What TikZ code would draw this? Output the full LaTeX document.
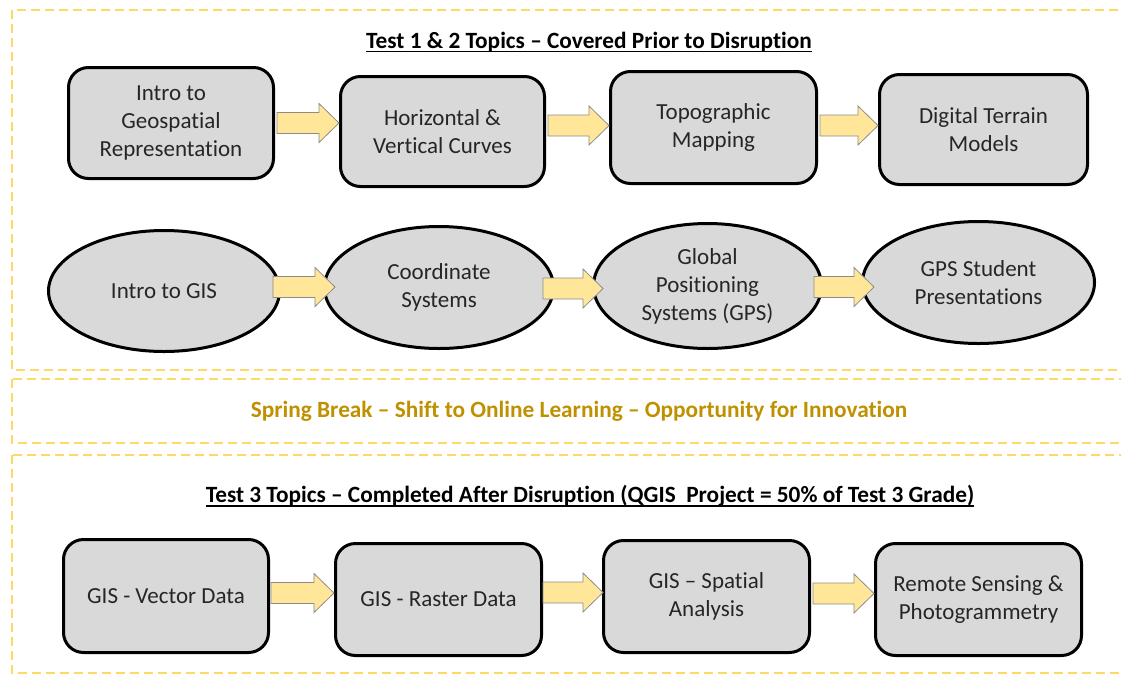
\documentclass[tikz,border=0pt]{standalone}
\usepackage{fontspec}
\setmainfont{Carlito}[Ligatures={TeX,CommonOff}]
\usetikzlibrary{calc,shapes.geometric}

\definecolor{nodegray}{HTML}{D9D9D9}
\definecolor{arrowfill}{HTML}{FFE699}
\definecolor{arrowline}{HTML}{8C8C8C}
\definecolor{dashyellow}{HTML}{FFD966}
\definecolor{breakgold}{HTML}{BF9000}
\definecolor{inktext}{HTML}{262626}

% heading text with a firm underline
\newsavebox\headbox
\newcommand\headline[1]{\sbox\headbox{#1}\rlap{\usebox\headbox}\rule[-4pt]{\wd\headbox}{1.5pt}}

\tikzset{
  topicbox/.style={draw=black, line width=3pt, fill=nodegray, rounded corners=20pt,
    align=center, inner sep=0pt, text=inktext, font=\fontsize{23}{28}\selectfont},
  topicoval/.style={ellipse, draw=black, line width=3pt, fill=nodegray,
    align=center, inner sep=0pt, text=inktext, font=\fontsize{23}{28}\selectfont},
  sectionframe/.style={draw=dashyellow, line width=2pt, dash pattern=on 9pt off 5pt},
  heading/.style={font=\fontsize{23.3}{28}\selectfont\bfseries, text=black},
  flowarrow/.style={fill=arrowfill, draw=arrowline, line width=0.8pt, line join=miter},
}

% block arrow from a start point to the x position of a tip, at the start's height
\newcommand\blockarrow[2]{%
  \path[flowarrow] let \p1=#1, \p2=#2 in
    (\x1,\y1+10.5pt) -- (\x2-20pt,\y1+10.5pt) -- (\x2-20pt,\y1+19.5pt) -- (\x2,\y1)
    -- (\x2-20pt,\y1-19.5pt) -- (\x2-20pt,\y1-10.5pt) -- (\x1,\y1-10.5pt) -- cycle;}

\begin{document}
\begin{tikzpicture}[x=1pt,y=-1pt]
\useasboundingbox (0,0) rectangle (1121,675);

% dashed section frames
\draw[sectionframe] (12,10) rectangle (1150,370);
\draw[sectionframe] (12,379) rectangle (1150,443);
\draw[sectionframe] (12,455) rectangle (1150,673);

% headings
\node[heading] (h1) at (589,42) {\headline{Test 1 \& 2 Topics -- Covered Prior to Disruption}};
\node[heading, text=breakgold] (h2) at (579,411) {Spring Break -- Shift to Online Learning -- Opportunity for Innovation};
\node[heading] (h3) at (590,496) {\headline{Test 3 Topics -- Completed After Disruption (QGIS\ \ Project = 50\% of Test 3 Grade)}};

% first row: rounded boxes
\node[topicbox, minimum width=205pt, minimum height=111pt] (a1) at (171,123) {Intro to\\Geospatial\\Representation};
\node[topicbox, minimum width=204pt, minimum height=110pt] (a2) at (442.5,131.5) {Horizontal \&\\Vertical Curves};
\node[topicbox, minimum width=206pt, minimum height=112pt] (a3) at (713.5,127.5) {Topographic\\Mapping};
\node[topicbox, minimum width=208pt, minimum height=110pt] (a4) at (983.5,129.5) {Digital Terrain\\Models};

% second row: ovals
\node[topicoval, minimum width=231pt, minimum height=121pt] (b1) at (164,291) {Intro to GIS};
\node[topicoval, minimum width=229pt, minimum height=122pt] (b2) at (439,287.5) {Coordinate\\Systems};
\node[topicoval, minimum width=228pt, minimum height=125pt] (b3) at (707.5,286) {Global\\Positioning\\Systems (GPS)};
\node[topicoval, minimum width=232pt, minimum height=122pt] (b4) at (978.5,282.5) {GPS Student\\Presentations};

% third row: rounded boxes
\node[topicbox, minimum width=205pt, minimum height=113pt] (c1) at (166,596) {GIS - Vector Data};
\node[topicbox, minimum width=206pt, minimum height=112pt] (c2) at (438.5,599.5) {GIS - Raster Data};
\node[topicbox, minimum width=206pt, minimum height=112pt] (c3) at (706.5,596.5) {GIS -- Spatial\\Analysis};
\node[topicbox, minimum width=206pt, minimum height=112pt] (c4) at (978.5,599.5) {Remote Sensing \&\\Photogrammetry};

% connecting arrows
\blockarrow{($(a1.east)+(2,0)$)}{(a2.west)}
\blockarrow{($(a2.east)+(2,-6)$)}{(a3.west)}
\blockarrow{($(a3.east)+(2,-2)$)}{(a4.west)}

\blockarrow{($(b1.east)+(-8,-4)$)}{($(b2.west)+(12,0)$)}
\blockarrow{($(b2.east)+(-12,1)$)}{($(b3.west)+(11,0)$)}
\blockarrow{($(b3.east)+(-9,1)$)}{($(b4.west)+(13,0)$)}

\blockarrow{($(c1.east)+(1,-3)$)}{(c2.west)}
\blockarrow{($(c2.east)+(0,-7)$)}{($(c3.west)+(1,0)$)}
\blockarrow{($(c3.east)+(2,-3)$)}{(c4.west)}
\end{tikzpicture}
\end{document}
